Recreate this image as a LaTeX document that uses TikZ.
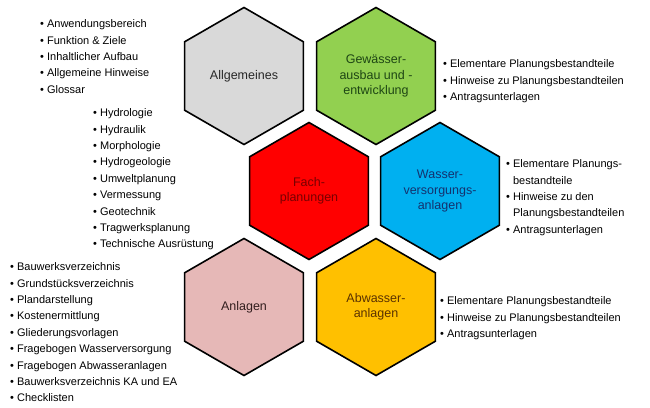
\documentclass[tikz,border=0pt]{standalone}
\usepackage{fontspec}
\setmainfont{Liberation Sans}
\usetikzlibrary{shapes.geometric}
\begin{document}
\begin{tikzpicture}[x=1pt,y=-1pt,
  hex/.style={regular polygon,regular polygon sides=6,shape border rotate=30,
    minimum size=137pt,inner sep=0pt,draw=black,line width=1.6pt,align=center,
    font=\fontsize{12.5}{15.5}\selectfont},
  lst/.style={anchor=north west,inner sep=0pt,font=\fontsize{11}{16.4}\selectfont}]
\useasboundingbox (0,0) rectangle (650,407);
\node[hex,fill={rgb,255:red,217;green,217;blue,217},text={rgb,255:red,40;green,40;blue,40}] (allg) at (244,76) {Allgemeines};
\node[hex,fill={rgb,255:red,146;green,208;blue,80},text={rgb,255:red,30;green,70;blue,20}] (gew) at (376,76) {Gewässer-\\ausbau und -\\entwicklung};
\node[hex,fill={rgb,255:red,255;green,0;blue,0},text={rgb,255:red,120;green,0;blue,0}] (fach) at (309,191) {Fach-\\planungen};
\node[hex,fill={rgb,255:red,0;green,176;blue,240},text={rgb,255:red,20;green,50;blue,110}] (wass) at (440,191) {Wasser-\\versorgungs-\\anlagen};
\node[hex,fill={rgb,255:red,230;green,184;blue,183},text={rgb,255:red,50;green,30;blue,30}] (anl) at (244,307) {Anlagen};
\node[hex,fill={rgb,255:red,255;green,192;blue,0},text={rgb,255:red,90;green,50;blue,0}] (abw) at (376,307) {Abwasser-\\anlagen};

\node[lst] (l1) at (40,16) {\begin{tabular}{@{}l@{\ }l@{}}
\textbullet&Anwendungsbereich\\ \textbullet&Funktion \& Ziele\\ \textbullet&Inhaltlicher Aufbau\\
\textbullet&Allgemeine Hinweise\\ \textbullet&Glossar\end{tabular}};
\node[lst] (l2) at (93,105) {\begin{tabular}{@{}l@{\ }l@{}}
\textbullet&Hydrologie\\ \textbullet&Hydraulik\\ \textbullet&Morphologie\\ \textbullet&Hydrogeologie\\
\textbullet&Umweltplanung\\ \textbullet&Vermessung\\ \textbullet&Geotechnik\\ \textbullet&Tragwerksplanung\\
\textbullet&Technische Ausrüstung\end{tabular}};
\node[lst] (l3) at (443,56) {\begin{tabular}{@{}l@{\ }l@{}}
\textbullet&Elementare Planungsbestandteile\\ \textbullet&Hinweise zu Planungsbestandteilen\\
\textbullet&Antragsunterlagen\end{tabular}};
\node[lst] (l4) at (506,156) {\begin{tabular}{@{}l@{\ }l@{}}
\textbullet&Elementare Planungs-\\ &bestandteile\\ \textbullet&Hinweise zu den\\ &Planungsbestandteilen\\
\textbullet&Antragsunterlagen\end{tabular}};
\node[lst] (l5) at (10,259) {\begin{tabular}{@{}l@{\ }l@{}}
\textbullet&Bauwerksverzeichnis\\ \textbullet&Grundstücksverzeichnis\\ \textbullet&Plandarstellung\\
\textbullet&Kostenermittlung\\ \textbullet&Gliederungsvorlagen\\ \textbullet&Fragebogen Wasserversorgung\\
\textbullet&Fragebogen Abwasseranlagen\\ \textbullet&Bauwerksverzeichnis KA und EA\\ \textbullet&Checklisten\end{tabular}};
\node[lst] (l6) at (440,293) {\begin{tabular}{@{}l@{\ }l@{}}
\textbullet&Elementare Planungsbestandteile\\ \textbullet&Hinweise zu Planungsbestandteilen\\
\textbullet&Antragsunterlagen\end{tabular}};
\end{tikzpicture}
\end{document}
